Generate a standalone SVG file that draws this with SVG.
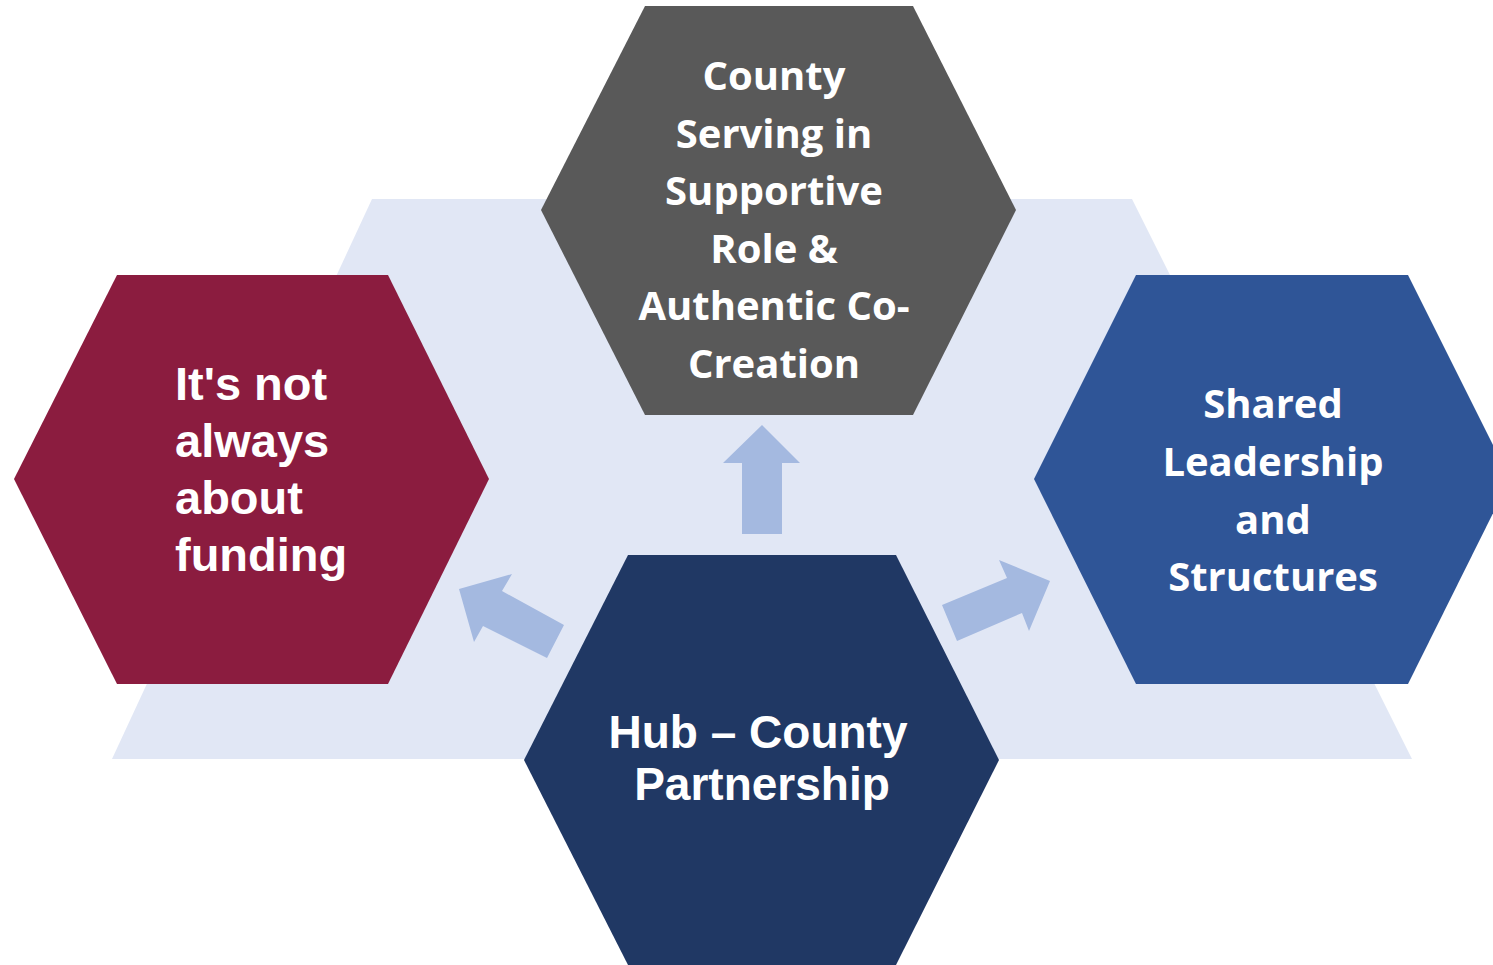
<svg xmlns="http://www.w3.org/2000/svg" width="1493" height="965" viewBox="0 0 1493 965">
<style>
.t{fill:#ffffff;font-weight:bold}
.os{font-family:"Open Sans","DejaVu Sans",sans-serif;font-size:40px;text-anchor:middle}
.ls{font-family:"Liberation Sans",Arial,sans-serif;font-size:47px}
.hub{font-family:"Liberation Sans",Arial,sans-serif;font-size:46px;text-anchor:middle}
.arrow{fill:#A4B9E0}
</style>
<rect width="1493" height="965" fill="#ffffff"/>
<polygon id="band" points="372,199 1132,199 1412,759 112,759" fill="#E1E7F5"/>
<g id="connectors">
<polygon class="arrow" points="762,425 800,463 782,463 782,534 742,534 742,463 723,463"/>
<polygon class="arrow" points="459,589 512,574 502,591 564,625 547,658 483,626 474,642"/>
<polygon class="arrow" points="1050,581 1029,631 1022,613 957,641 942,605 1007,578 999,560"/>
</g>
<g id="node-top">
<polygon points="645,6 913,6 1016,210 913,415 645,415 541,210" fill="#595959"/>
<text class="t os"><tspan x="774" y="90">County</tspan><tspan x="774" y="148">Serving in</tspan><tspan x="774" y="205">Supportive</tspan><tspan x="774" y="263">Role &amp;</tspan><tspan x="774" y="320">Authentic Co-</tspan><tspan x="774" y="378">Creation</tspan></text>
</g>
<g id="node-left">
<polygon points="117,275 388,275 489,479 388,684 117,684 14,479" fill="#8B1C3F"/>
<text class="t ls"><tspan x="175" y="400">It's not</tspan><tspan x="175" y="457">always</tspan><tspan x="175" y="514">about</tspan><tspan x="175" y="571">funding</tspan></text>
</g>
<g id="node-right">
<polygon points="1136,275 1408,275 1510,479 1408,684 1136,684 1034,479" fill="#2F5597"/>
<text class="t os"><tspan x="1273" y="418">Shared</tspan><tspan x="1273" y="476">Leadership</tspan><tspan x="1273" y="534">and</tspan><tspan x="1273" y="591">Structures</tspan></text>
</g>
<g id="node-bottom">
<polygon points="628,555 896,555 999,760 896,965 628,965 524,760" fill="#203864"/>
<text class="t hub"><tspan x="758" y="748">Hub – County</tspan><tspan x="762" y="800">Partnership</tspan></text>
</g>
</svg>
